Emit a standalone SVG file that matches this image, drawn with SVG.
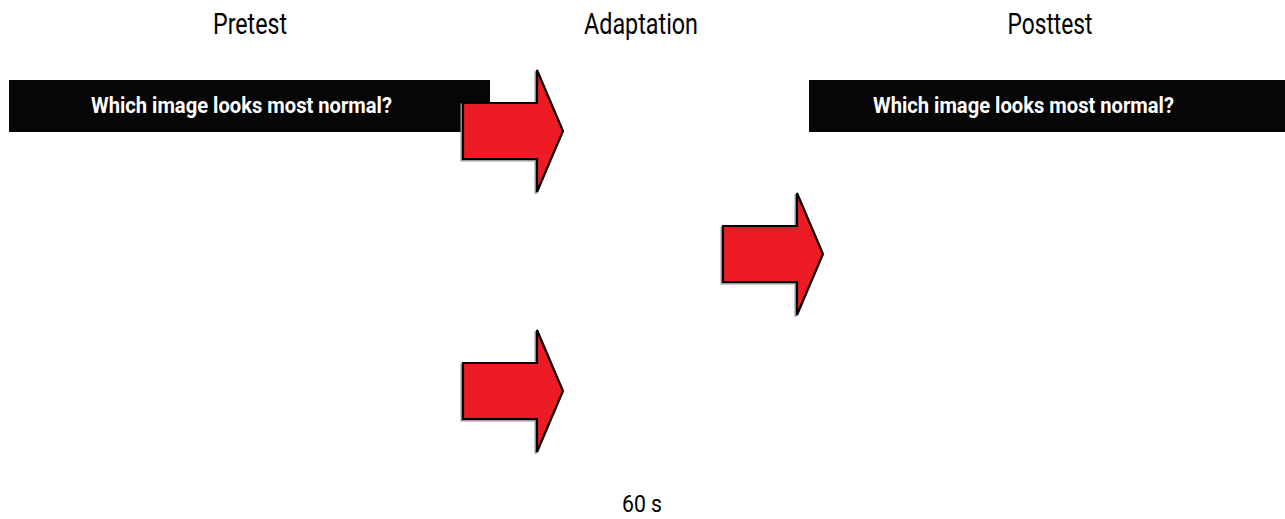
<svg xmlns="http://www.w3.org/2000/svg" width="1285" height="519" viewBox="0 0 1285 519">
<style>
.title{font-family:"Liberation Sans Narrow","Roboto","Liberation Sans",sans-serif;font-size:29px;fill:#000;text-anchor:middle}
.dur{font-family:"Liberation Sans Narrow","Roboto","Liberation Sans",sans-serif;font-size:24px;fill:#000;text-anchor:middle}
.q{font-family:"Liberation Sans Narrow","Roboto","Liberation Sans",sans-serif;font-weight:bold;font-size:22px;fill:#fff}
.bar{fill:#060606}
.arrow{fill:#ED1C24;stroke:#000;stroke-width:2.2;stroke-linejoin:miter}
.shadow{fill:none;stroke:#999;stroke-width:2}
</style>
<defs>
<path id="arr" d="M0,-28 H74 V-61 L100,0 L74,61 V28 H0 Z"/>
</defs>
<rect width="1285" height="519" fill="#fff"/>
<g id="title-pretest"><text class="title" x="250" y="34" textLength="74" lengthAdjust="spacingAndGlyphs">Pretest</text></g>
<g id="title-adaptation"><text class="title" x="641" y="34" textLength="114" lengthAdjust="spacingAndGlyphs">Adaptation</text></g>
<g id="title-posttest"><text class="title" x="1050" y="34" textLength="85" lengthAdjust="spacingAndGlyphs">Posttest</text></g>
<g id="pretest-question">
<rect class="bar" x="9" y="80" width="481" height="52"/>
<text class="q" x="91" y="112.5" textLength="301" lengthAdjust="spacingAndGlyphs">Which image looks most normal?</text>
</g>
<g id="posttest-question">
<rect class="bar" x="809" y="80" width="476" height="52"/>
<text class="q" x="873" y="112.5" textLength="301" lengthAdjust="spacingAndGlyphs">Which image looks most normal?</text>
</g>
<g id="connectors">
<g id="arrow-1" transform="translate(463,131)"><use href="#arr" class="shadow" transform="translate(-1.5,1.5)"/><use href="#arr" class="arrow"/></g>
<g id="arrow-2" transform="translate(723,254)"><use href="#arr" class="shadow" transform="translate(-1.5,1.5)"/><use href="#arr" class="arrow"/></g>
<g id="arrow-3" transform="translate(463,391)"><use href="#arr" class="shadow" transform="translate(-1.5,1.5)"/><use href="#arr" class="arrow"/></g>
</g>
<g id="duration"><text class="dur" x="642" y="512" textLength="40" lengthAdjust="spacingAndGlyphs">60 s</text></g>
</svg>
